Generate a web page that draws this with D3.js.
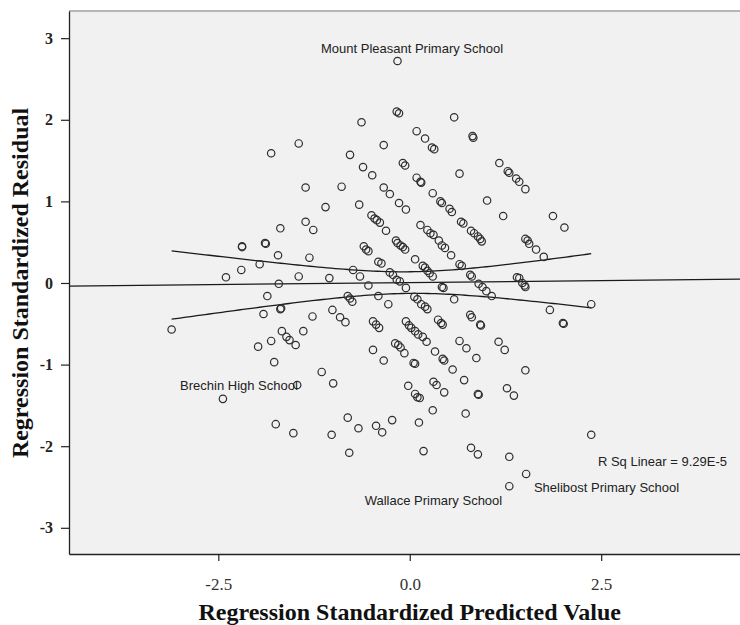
<!DOCTYPE html>
<html><head><meta charset="utf-8">
<script src="https://cdn.jsdelivr.net/npm/d3@7"></script>
<style>body{margin:0;background:#fff}</style>
</head><body>
<svg id="chart" width="740" height="625"></svg>
<script>
// Regression Standardized Predicted Value (x) and Standardized Residual (y)
const predicted = [
-0.16,-0.17,-0.14,0.58,-0.63,0.09,0.20,0.29,0.32,0.82,0.83,-0.34,-1.45,-1.81,-0.78,-0.09,-0.06,1.17,0.65,1.28,
1.30,1.39,1.43,1.51,-0.61,-0.49,0.09,0.14,0.15,-1.36,-0.89,-0.34,-0.26,0.30,0.40,0.42,1.01,-0.14,-0.05,-1.10,
-0.66,0.52,0.55,1.22,1.87,2.02,-0.50,-0.46,-0.43,-0.39,-0.31,-1.36,-1.26,-1.69,0.14,0.67,0.70,0.80,0.84,0.89,
0.92,0.94,0.23,0.27,0.31,0.38,0.42,0.46,-0.18,-0.16,-0.12,-0.09,-0.06,-0.60,-0.57,-0.54,1.51,1.54,1.56,1.65,
1.75,-2.19,-2.19,-1.89,-1.88,-1.72,-1.31,0.54,0.07,-0.41,-0.37,0.17,0.20,0.23,0.65,0.68,-1.96,-2.20,-2.40,-1.45,
-1.05,-0.74,-0.65,-0.26,-0.22,-0.17,-0.13,0.26,0.30,0.79,0.81,1.40,1.43,1.47,1.50,1.51,0.90,0.95,1.00,1.07,
-1.71,-0.54,-0.05,0.42,0.44,-1.86,-1.69,-1.68,-1.91,-1.27,-0.81,-0.78,-0.75,-0.41,-0.28,0.06,0.10,0.15,0.20,0.23,
0.58,2.37,1.83,-1.01,-0.91,-0.84,0.79,0.81,0.92,0.93,0.37,0.41,0.43,-0.48,-0.44,-0.40,-0.05,-0.01,0.02,0.07,
0.11,2.00,2.01,-3.11,-1.67,-1.61,-1.57,-1.39,-1.49,-1.81,-1.98,-1.77,0.17,0.22,-0.19,-0.15,-0.12,-0.07,-0.48,-0.34,
0.33,0.43,0.45,0.65,0.74,0.87,1.16,1.24,0.05,0.07,0.56,1.51,-1.15,-1.00,-1.47,-2.44,-0.02,0.07,0.10,0.13,
0.31,0.35,0.45,0.71,0.89,0.90,1.27,1.36,0.30,0.73,-0.81,-0.23,0.12,-1.75,-0.67,-0.44,-0.36,-1.52,-1.02,2.37,
-0.79,0.18,0.80,0.89,1.30,1.52,1.30
];
const residual = [
2.72,2.10,2.08,2.03,1.97,1.86,1.77,1.66,1.64,1.80,1.78,1.69,1.71,1.59,1.57,1.47,1.44,1.47,1.34,1.37,
1.35,1.28,1.24,1.15,1.42,1.32,1.29,1.24,1.23,1.17,1.18,1.17,1.09,1.10,1.00,0.98,1.01,0.98,0.90,0.93,
0.96,0.91,0.87,0.82,0.82,0.68,0.83,0.79,0.77,0.74,0.64,0.75,0.65,0.67,0.71,0.75,0.73,0.64,0.61,0.57,
0.54,0.51,0.65,0.61,0.59,0.52,0.46,0.43,0.52,0.49,0.46,0.44,0.41,0.45,0.41,0.39,0.54,0.52,0.48,0.41,
0.32,0.44,0.45,0.49,0.48,0.34,0.31,0.34,0.29,0.26,0.24,0.21,0.19,0.15,0.23,0.21,0.23,0.16,0.07,0.08,
0.06,0.16,0.08,0.13,0.10,0.04,0.02,0.12,0.08,0.10,0.08,0.07,0.06,0.00,-0.03,-0.05,-0.01,-0.05,-0.10,-0.16,
-0.01,-0.03,-0.06,-0.05,-0.06,-0.16,-0.32,-0.31,-0.38,-0.41,-0.16,-0.19,-0.23,-0.16,-0.26,-0.17,-0.20,-0.26,-0.29,-0.32,
-0.20,-0.26,-0.33,-0.33,-0.42,-0.48,-0.39,-0.42,-0.51,-0.52,-0.45,-0.49,-0.51,-0.47,-0.51,-0.55,-0.47,-0.52,-0.55,-0.59,
-0.63,-0.49,-0.50,-0.57,-0.59,-0.66,-0.70,-0.59,-0.76,-0.71,-0.78,-0.97,-0.66,-0.72,-0.74,-0.76,-0.79,-0.86,-0.82,-0.95,
-0.84,-0.93,-0.95,-0.71,-0.80,-0.92,-0.72,-0.82,-0.98,-0.99,-1.06,-1.07,-1.09,-1.23,-1.25,-1.42,-1.26,-1.36,-1.40,-1.41,
-1.21,-1.25,-1.34,-1.19,-1.36,-1.37,-1.29,-1.38,-1.56,-1.60,-1.65,-1.68,-1.71,-1.73,-1.78,-1.75,-1.83,-1.84,-1.86,-1.86,
-2.08,-2.06,-2.02,-2.10,-2.13,-2.34,-2.49
];
const xTicks = [-2.5, 0.0, 2.5];
const yTicks = [-3, -2, -1, 0, 1, 2, 3];
// point labels: text, anchor (centre x, baseline y) in data units
const labelNames = ["Mount Pleasant Primary School", "Brechin High School", "Wallace Primary School", "Shelibost Primary School"];
const labelX = [0.03, -2.23, 0.31, 2.57];
const labelY = [2.82, -1.31, -2.72, -2.56];
const rSqText = "R Sq Linear = 9.29E-5";
const rSqAt = [3.30, -2.24];
const fitCoef = [0.005, 0.0096]; // intercept, slope
const xTitle = "Regression Standardized Predicted Value";
const yTitle = "Regression Standardized Residual";

const svg = d3.select("#chart");
const W = 740, H = 625;
const plotLeft = 69, plotTop = 11, plotBottom = 554, plotRight = 750.5;

const x = d3.scaleLinear().domain([-4.45, 4.45]).range([plotLeft, plotRight]);
const y = d3.scaleLinear().domain([-3.321, 3.333]).range([plotBottom, plotTop]);

// plot background
svg.append("rect").attr("x", plotLeft).attr("y", plotTop)
  .attr("width", plotRight - plotLeft).attr("height", plotBottom - plotTop)
  .attr("fill", "#f1f1f1");
svg.append("line").attr("x1", plotLeft).attr("x2", W).attr("y1", plotTop).attr("y2", plotTop)
  .attr("stroke", "#a0a0a0").attr("stroke-width", 1.5);

// axes
const yAxis = d3.axisLeft(y).tickValues(yTicks).tickSize(8).tickSizeOuter(0)
  .tickPadding(8).tickFormat(d => String(d));
const gy = svg.append("g").attr("transform", `translate(${plotLeft},0)`).call(yAxis);
gy.selectAll("path.domain").attr("stroke", "#222").attr("stroke-width", 1.3);
gy.selectAll(".tick line").attr("stroke", "#222").attr("stroke-width", 1.2);
gy.selectAll(".tick text").attr("font-family", "'Liberation Serif','Times New Roman',serif")
  .attr("font-size", 16).attr("font-weight", "bold").attr("fill", "#222");

const xAxis = d3.axisBottom(x).tickValues(xTicks).tickSize(7).tickSizeOuter(0)
  .tickPadding(17).tickFormat(d => d.toFixed(1));
const gx = svg.append("g").attr("transform", `translate(0,${plotBottom})`).call(xAxis);
gx.selectAll("path.domain").attr("stroke", "#222").attr("stroke-width", 1.3);
gx.selectAll(".tick line").attr("stroke", "#222").attr("stroke-width", 1.2);
gx.selectAll(".tick text").attr("font-family", "'Liberation Serif','Times New Roman',serif")
  .attr("font-size", 17).attr("fill", "#333");

// axis titles
svg.append("text").attr("x", x(0)).attr("y", 620).attr("text-anchor", "middle")
  .attr("font-family", "'Liberation Serif','Times New Roman',serif").attr("font-weight", "bold")
  .attr("font-size", 24).attr("fill", "#111").text(xTitle);
svg.append("text").attr("transform", `translate(28,${y(0)}) rotate(-90)`).attr("text-anchor", "middle")
  .attr("font-family", "'Liberation Serif','Times New Roman',serif").attr("font-weight", "bold")
  .attr("font-size", 24).attr("fill", "#111").text(yTitle);

// fit line and 95% mean confidence band
const pts = predicted.map((p, i) => ({x: p, y: residual[i]}));
const fit = v => fitCoef[0] + fitCoef[1] * v;
const n = pts.length;
const xbar = d3.mean(pts, d => d.x);
const sxx = d3.sum(pts, d => (d.x - xbar) ** 2);
const sres = Math.sqrt(d3.sum(pts, d => (d.y - fit(d.x)) ** 2) / (n - 2));
const tval = 1.97;
const [xmin, xmax] = d3.extent(pts, d => d.x);
const grid = d3.range(0, 101).map(i => xmin + (xmax - xmin) * i / 100);
const half = v => tval * sres * Math.sqrt(1 / n + (v - xbar) ** 2 / sxx);
const lineGen = d3.line().x(d => x(d[0])).y(d => y(d[1]));

const gLines = svg.append("g").attr("fill", "none").attr("stroke", "#1a1a1a").attr("stroke-width", 1.3);
gLines.append("path").attr("d", lineGen([[x.invert(plotLeft), fit(x.invert(plotLeft))], [x.invert(W), fit(x.invert(W))]]));
gLines.append("path").attr("d", lineGen(grid.map(v => [v, fit(v) + half(v)])));
gLines.append("path").attr("d", lineGen(grid.map(v => [v, fit(v) - half(v)])));

// points
svg.append("g").selectAll("circle").data(pts).join("circle")
  .attr("cx", d => x(d.x)).attr("cy", d => y(d.y)).attr("r", 3.7)
  .attr("fill", "none").attr("stroke", "#2e2e2e").attr("stroke-width", 1.2);

// labels
const lab = svg.append("g").attr("font-family", "'Liberation Sans',Arial,sans-serif")
  .attr("font-size", 13).attr("fill", "#222");
lab.selectAll("text.pl").data(labelNames).join("text").attr("class", "pl")
  .attr("x", (d, i) => x(labelX[i])).attr("y", (d, i) => y(labelY[i]))
  .attr("text-anchor", "middle").text(d => d);
lab.append("text").attr("x", x(rSqAt[0])).attr("y", y(rSqAt[1]))
  .attr("text-anchor", "middle").text(rSqText);
</script>
</body></html>
